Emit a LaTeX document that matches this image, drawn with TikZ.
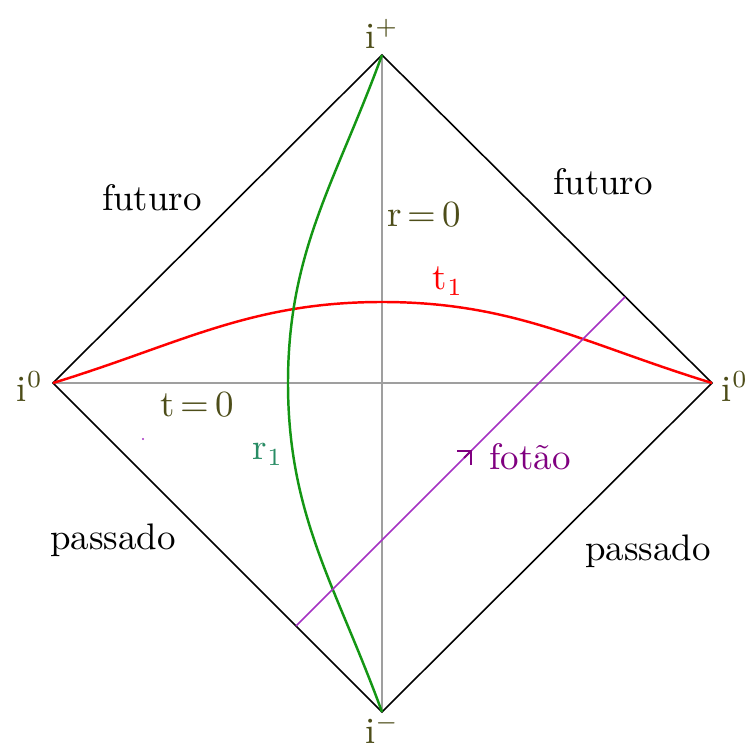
\documentclass[tikz,border=0pt]{standalone}
\usepackage{tikz}
\usetikzlibrary{arrows.meta}
\usepackage{xcolor}
\definecolor{oliva}{RGB}{77,77,25}
\definecolor{verde}{RGB}{20,150,20}
\definecolor{verdel}{RGB}{40,140,100}
\definecolor{roxo}{RGB}{165,50,195}
\definecolor{roxol}{RGB}{128,0,128}
\begin{document}
\begin{tikzpicture}[x=0.01cm, y=0.01cm, font=\fontsize{10.5}{12}\selectfont,
  edge/.style={draw=black, line width=0.45pt},
  axis/.style={draw=gray!75, line width=0.6pt},
  lbl/.style={text=oliva, inner sep=0pt},
  reg/.style={text=black, inner sep=0pt},
  tline/.style={draw=red, line width=0.7pt},
  rline/.style={draw=verde, line width=0.7pt},
  foton/.style={draw=roxo, line width=0.45pt},
  a/.style={-{Straight Barb[length=2.8pt, width=5.6pt]}, line width=0.6pt}]
  \useasboundingbox (0,0) rectangle (746,748);
  \coordinate (ip) at (382,693);
  \coordinate (im) at (382,36);
  \coordinate (il) at (53,365);
  \coordinate (ir) at (712,365);
  \draw[axis] (ip) -- (im);
  \draw[axis] (il) -- (ir);
  \draw[edge] (il) -- (ip) -- (ir) -- (im) -- cycle;
  \node[lbl] (nip) at (382,714) {i$^{+}$};
  \node[lbl] (nim) at (382,19) {i$^{-}$};
  \node[lbl] (nil) at (30,361) {i$^{0}$};
  \node[lbl] (nir) at (735,361) {i$^{0}$};
  \node[reg] (fut1) at (152,550) {futuro};
  \node[reg] (fut2) at (603,566) {futuro};
  \node[reg] (pas1) at (113,208) {passado};
  \node[reg] (pas2) at (648,197) {passado};
  \node[lbl] (r0) at (424,533) {r\,=\,0};
  \node[lbl] (t0) at (197,343) {t\,=\,0};
  % curvas t = t1 e r = r1
  \coordinate (tc) at (382,446);
  \coordinate (rc) at (288,365);
  \draw[tline] (il) to[out=17, in=180] (tc) to[out=0, in=163] (ir);
  \draw[rline] (ip) to[out=-110, in=90] (rc) to[out=-90, in=110] (im);
  \node[inner sep=0pt, text=red] (t1) at (448,467) {t$_1$};
  \node[inner sep=0pt, text=verdel] (r1) at (268,294) {r$_1$};
  % raio de luz
  \coordinate (fa) at (296,122);
  \coordinate (fm) at (472,298);
  \coordinate (fb) at (625,451);
  \draw[foton] (fa) -- (fb);
  \draw[a, draw=roxol] ([shift={(-8,-8)}]fm) -- (fm);
  \node[inner sep=0pt, text=roxol] (fot) at (530,291) {fotão};
  \fill[roxo] (143,309) circle (1.2);
\end{tikzpicture}
\end{document}
